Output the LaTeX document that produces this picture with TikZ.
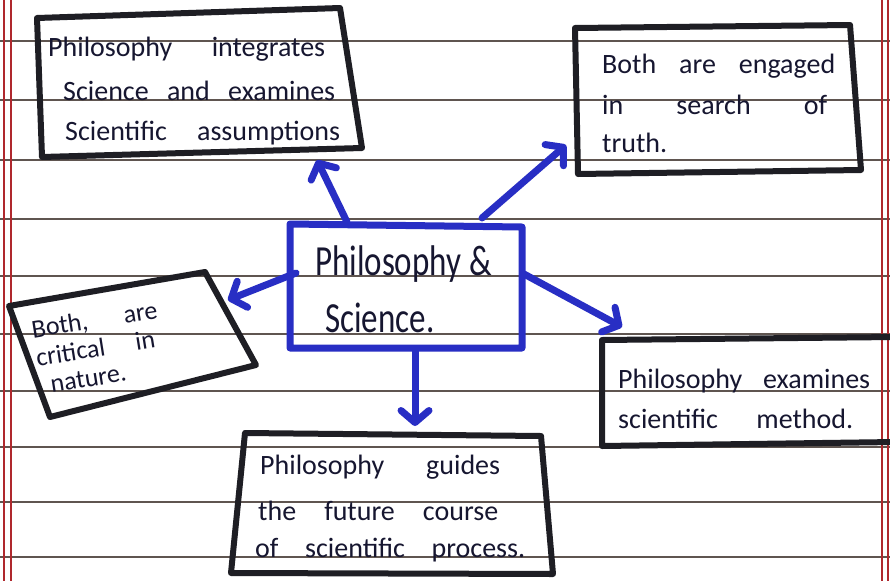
\documentclass[tikz,border=0pt]{standalone}
\usepackage{fontspec}
\setmainfont{Carlito}
\usetikzlibrary{arrows.meta}
\definecolor{inkblue}{RGB}{40,46,196}
\definecolor{boxblack}{RGB}{30,30,36}
\definecolor{inktext}{RGB}{22,22,48}
\definecolor{ruleline}{RGB}{95,85,80}
\definecolor{marginred}{RGB}{175,40,45}
\newcommand{\hwline}[2]{\makebox[#1pt][s]{#2}}
\tikzset{
  hand/.style={font=\fontsize{28}{34}\selectfont, text=inktext, inner sep=0pt, anchor=base west},
  handbig/.style={hand, font=\fontsize{33}{40}\selectfont, yscale=1.3},
  handtilt/.style={font=\fontsize{26}{28.5}\selectfont, text=inktext, inner sep=0pt, anchor=north west, align=left, rotate=9},
  bbox/.style={draw=boxblack, line width=6pt, line join=round, line cap=round},
  cbox/.style={draw=inkblue, line width=7pt, line join=round, line cap=round},
  conn/.style={draw=inkblue, line width=7pt, line cap=round, -{Straight Barb[length=12pt,width=28pt,round]}},
  ruled/.style={draw=ruleline, line width=1.3pt},
  margin/.style={draw=marginred, line width=1.5pt}
}
\begin{document}
\begin{tikzpicture}[x=1pt,y=-1pt]
  % paper
  \fill[white] (0,0) rectangle (890,581);
  \useasboundingbox (0,0) rectangle (890,581);
  \foreach \yy in {41,100,160,219,276,334,391,447,502,557}
    \draw[ruled] (0,\yy) -- (890,\yy);
  \foreach \xx in {4,11,882,888}
    \draw[margin] (\xx,0) -- (\xx,581);

  % boxes
  \draw[bbox] (37,18) -- (340,8) -- (362,148) -- (42,157) -- cycle;
  \draw[bbox] (575,28) -- (850,25) -- (861,170) -- (578,174) -- cycle;
  \draw[cbox] (290,224) -- (522,227) -- (522,348) -- (290,348) -- cycle;
  \draw[bbox] (9,306) -- (205,272) -- (256,365) -- (50,417) -- cycle;
  \draw[bbox] (245,433) -- (541,436) -- (553,574) -- (231,573) -- cycle;
  \draw[bbox] (895,337) -- (602,340) -- (602,446) -- (895,442);

  % texts
  \node[hand] (t1a) at (48,56)  {\hwline{277}{Philosophy integrates}};
  \node[hand] (t1b) at (63,100) {\hwline{272}{Science and examines}};
  \node[hand] (t1c) at (65,140) {\hwline{275}{Scientific assumptions}};

  \node[hand] (t2a) at (602,73)  {\hwline{233}{Both are engaged}};
  \node[hand] (t2b) at (602,114) {\hwline{225}{in search of}};
  \node[hand] (t2c) at (602,152) {truth.};

  \node[handbig] (t3a) at (315,275) {\hwline{177}{Philosophy \&}};
  \node[handbig] (t3b) at (325,332) {Science.};

  \node[handtilt] (t4) at (30,320) {\hwline{127}{Both, are}\\
    \hwline{120}{critical in}\\
    \hspace*{10pt}nature.};

  \node[hand] (t5a) at (260,474) {\hwline{240}{Philosophy guides}};
  \node[hand] (t5b) at (258,520) {\hwline{240}{the future course}};
  \node[hand] (t5c) at (255,557) {\hwline{270}{of scientific process.}};

  \node[hand] (t6a) at (618,388) {\hwline{252}{Philosophy examines}};
  \node[hand] (t6b) at (618,428) {\hwline{235}{scientific method.}};

  % connector ends
  \coordinate (sa) at (347,222); \coordinate (ea) at (317,160);
  \coordinate (sb) at (482,218); \coordinate (eb) at (566,145);
  \coordinate (sc) at (296,273); \coordinate (ec) at (228,300);
  \coordinate (sd) at (524,274); \coordinate (ed) at (622,327);
  \coordinate (se) at (415,350); \coordinate (ee) at (415,426);

  \draw[conn] (sa) -- (ea);
  \draw[conn] (sb) -- (eb);
  \draw[conn] (sc) -- (ec);
  \draw[conn] (sd) -- (ed);
  \draw[conn] (se) -- (ee);
\end{tikzpicture}
\end{document}
